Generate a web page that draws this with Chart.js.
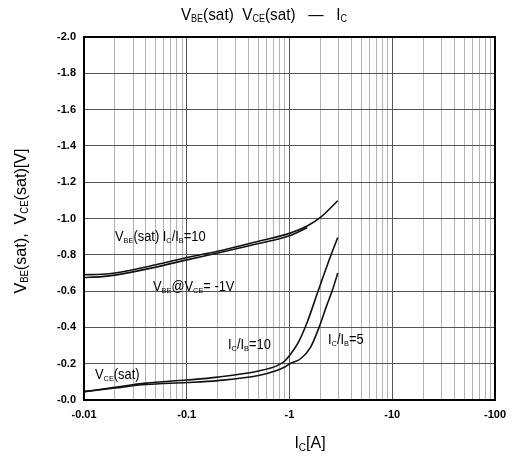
<!DOCTYPE html>
<html>
<head>
<meta charset="utf-8">
<script src="https://cdn.jsdelivr.net/npm/chart.js@4.4.1/dist/chart.umd.min.js"></script>
<style>
  html, body { margin: 0; padding: 0; background: #fff; }
  #wrap { width: 514px; height: 457px; }
</style>
</head>
<body>
<div id="wrap"><canvas id="chart" width="514" height="457"></canvas></div>
<script>
// Collector current |Ic| [A] and voltages |V| (axes are labelled with a minus sign)
const vbeSatIc = [0.01, 0.015, 0.02, 0.05, 0.1, 0.2, 0.5, 1, 1.5, 2, 2.95];
const vbeSatV  = [0.69, 0.693, 0.70, 0.745, 0.785, 0.82, 0.875, 0.918, 0.96, 1.006, 1.098];

const vbeOnIc = [0.01, 0.015, 0.02, 0.05, 0.1, 0.2, 0.5, 1, 1.49];
const vbeOnV  = [0.675, 0.68, 0.688, 0.732, 0.772, 0.81, 0.862, 0.905, 0.95];

const vce10Ic = [0.01, 0.02, 0.04, 0.1, 0.2, 0.5, 0.75, 0.9, 1.0, 1.2, 1.49, 1.87, 2.54, 2.95];
const vce10V  = [0.046, 0.07, 0.093, 0.11, 0.126, 0.16, 0.188, 0.215, 0.245, 0.31, 0.43, 0.59, 0.80, 0.895];

const vce5Ic = [0.01, 0.02, 0.04, 0.1, 0.2, 0.5, 0.75, 0.9, 1.0, 1.3, 1.6, 1.94, 2.3, 2.6, 2.95];
const vce5V  = [0.046, 0.066, 0.085, 0.096, 0.107, 0.135, 0.163, 0.182, 0.198, 0.23, 0.29, 0.40, 0.52, 0.60, 0.70];

const xTickValues = [0.01, 0.1, 1, 10, 100];
const yTickValues = [0, 0.2, 0.4, 0.6, 0.8, 1.0, 1.2, 1.4, 1.6, 1.8, 2.0];

const FONT = '"Liberation Sans", Arial, sans-serif';

function pts(xs, ys) {
  return xs.map((x, i) => ({ x: x, y: ys[i] }));
}

// draw text made of normal and subscript parts, squeezed horizontally by sx
function richText(ctx, parts, x, y, size, align, sx) {
  sx = sx || 1;
  const sub = Math.round(size * 0.6);
  let w = 0;
  parts.forEach(p => {
    ctx.font = (p[1] ? sub : size) + 'px ' + FONT;
    w += ctx.measureText(p[0]).width;
  });
  ctx.save();
  ctx.translate(x, y);
  ctx.scale(sx, 1);
  let cx = align === 'center' ? -w / 2 : 0;
  ctx.textAlign = 'left';
  ctx.textBaseline = 'middle';
  parts.forEach(p => {
    ctx.font = (p[1] ? sub : size) + 'px ' + FONT;
    ctx.fillText(p[0], cx, p[1] ? size * 0.24 : 0);
    cx += ctx.measureText(p[0]).width;
  });
  ctx.restore();
}

const labelsPlugin = {
  id: 'labels',
  afterDraw(chart) {
    const ctx = chart.ctx;
    ctx.save();
    ctx.fillStyle = '#000';
    // title
    richText(ctx, [['V', 0], ['BE', 1], ['(sat)  V', 0], ['CE', 1], ['(sat)   \u2014   I', 0], ['C', 1]], 264, 15, 17, 'center', 0.9);
    // x axis title
    richText(ctx, [['I', 0], ['C', 1], ['[A]', 0]], 310, 444, 16, 'center', 1);
    // y axis title
    ctx.save();
    ctx.translate(21, 221);
    ctx.rotate(-Math.PI / 2);
    richText(ctx, [['V', 0], ['BE', 1], ['(sat),  V', 0], ['CE', 1], ['(sat)[V]', 0]], 0, 0, 17, 'center', 0.95);
    ctx.restore();
    // curve labels
    richText(ctx, [['V', 0], ['BE', 1], ['(sat) I', 0], ['C', 1], ['/I', 0], ['B', 1], ['=10', 0]], 115, 237, 14, 'left', 0.92);
    richText(ctx, [['V', 0], ['BE', 1], ['@V', 0], ['CE', 1], ['= -1V', 0]], 153, 287, 14, 'left', 0.92);
    richText(ctx, [['I', 0], ['C', 1], ['/I', 0], ['B', 1], ['=10', 0]], 228, 345, 14, 'left', 0.92);
    richText(ctx, [['I', 0], ['C', 1], ['/I', 0], ['B', 1], ['=5', 0]], 328, 340, 14, 'left', 0.92);
    richText(ctx, [['V', 0], ['CE', 1], ['(sat)', 0]], 95, 375, 14, 'left', 0.92);
    ctx.restore();
  }
};

function line(data) {
  return {
    data: data,
    borderColor: '#111',
    borderWidth: 1.6,
    pointRadius: 0,
    fill: false,
    cubicInterpolationMode: 'monotone'
  };
}

const chart = new Chart(document.getElementById('chart').getContext('2d'), {
  type: 'line',
  data: {
    datasets: [
      line(pts(vbeSatIc, vbeSatV)),
      line(pts(vbeOnIc, vbeOnV)),
      line(pts(vce10Ic, vce10V)),
      line(pts(vce5Ic, vce5V))
    ]
  },
  options: {
    responsive: false,
    animation: false,
    layout: { padding: { left: 0, right: 14, top: 37, bottom: 0 } },
    plugins: {
      legend: { display: false },
      tooltip: { enabled: false }
    },
    scales: {
      x: {
        type: 'logarithmic',
        min: 0.01,
        max: 100,
        afterBuildTicks: (scale) => {
          const t = [];
          for (let d = 0; d < xTickValues.length - 1; d++) {
            for (let m = 1; m <= 9; m++) t.push({ value: +(xTickValues[d] * m).toPrecision(3) });
          }
          t.push({ value: xTickValues[xTickValues.length - 1] });
          scale.ticks = t;
        },
        afterFit: (scale) => { scale.height = 57; },
        ticks: {
          autoSkip: false,
          maxRotation: 0,
          padding: 8,
          color: '#000',
          font: { family: FONT, size: 11, weight: 'bold' },
          callback: (v) => xTickValues.includes(v) ? '-' + v : ''
        },
        grid: {
          drawTicks: false,
          color: (c) => xTickValues.includes(c.tick && c.tick.value) ? '#555' : '#b4b4b4',
          lineWidth: 1
        },
        border: { display: true, color: '#000', width: 2 }
      },
      y: {
        min: 0,
        max: 2,
        afterBuildTicks: (scale) => { scale.ticks = yTickValues.map(v => ({ value: v })); },
        afterFit: (scale) => { scale.width = 84; },
        ticks: {
          padding: 8,
          color: '#000',
          font: { family: FONT, size: 11, weight: 'bold' },
          callback: (v) => '-' + v.toFixed(1)
        },
        grid: { drawTicks: false, color: '#555', lineWidth: 1 },
        border: { display: true, color: '#000', width: 2 }
      }
    }
  },
  plugins: [labelsPlugin, {
    id: 'frame',
    afterDatasetsDraw(chart) {
      const a = chart.chartArea, ctx = chart.ctx;
      ctx.save();
      ctx.strokeStyle = '#000';
      ctx.lineWidth = 2;
      ctx.strokeRect(a.left, a.top, a.right - a.left, a.bottom - a.top);
      ctx.restore();
    }
  }]
});
</script>
</body>
</html>
